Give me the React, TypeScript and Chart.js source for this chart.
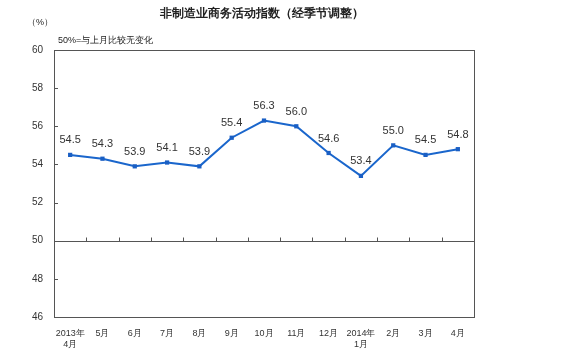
import React, { useEffect, useRef } from "react";
import { Chart, registerables } from "chart.js";

Chart.register(...registerables);

const categories: (string | string[])[] = [
  ["2013年", "4月"], "5月", "6月", "7月", "8月", "9月", "10月", "11月", "12月", ["2014年", "1月"], "2月", "3月", "4月",
];
const values: number[] = [54.5, 54.3, 53.9, 54.1, 53.9, 55.4, 56.3, 56.0, 54.6, 53.4, 55.0, 54.5, 54.8];
const yMin = 46;
const yMax = 60;
const yStep = 2;
const baseline = 50;
const title = "非制造业商务活动指数（经季节调整）";
const unitLabel = "（%）";
const note = "50%=与上月比较无变化";

const FONT = "'Liberation Sans', Arial, sans-serif";

const decorPlugin = {
  id: "decor",
  afterDatasetsDraw(chart: any) {
    const { ctx, chartArea } = chart;
    const { left, right, top, bottom } = chartArea;
    const y = chart.scales.y;
    const x = chart.scales.x;
    ctx.save();
    ctx.strokeStyle = "#555";
    ctx.lineWidth = 1;
    ctx.strokeRect(Math.round(left) + 0.5, Math.round(top) + 0.5, Math.round(right - left), Math.round(bottom - top));
    // baseline
    const by = Math.round(y.getPixelForValue(baseline)) + 0.5;
    ctx.beginPath();
    ctx.moveTo(left, by);
    ctx.lineTo(right, by);
    ctx.stroke();
    // y ticks inward
    ctx.beginPath();
    for (let v = yMin; v <= yMax; v += yStep) {
      const py = Math.round(y.getPixelForValue(v)) + 0.5;
      ctx.moveTo(left, py);
      ctx.lineTo(left + 4, py);
    }
    // x ticks on baseline
    const n = categories.length;
    const w = (right - left) / n;
    for (let i = 1; i < n; i++) {
      const px = Math.round(left + i * w) + 0.5;
      ctx.moveTo(px, by);
      ctx.lineTo(px, by - 4);
    }
    ctx.stroke();
    // data labels
    ctx.fillStyle = "#333";
    ctx.font = `11px ${FONT}`;
    ctx.textAlign = "center";
    ctx.textBaseline = "bottom";
    values.forEach((v, i) => {
      const px = x.getPixelForValue(i);
      const py = y.getPixelForValue(v);
      ctx.fillText(v.toFixed(1), px, py - 9);
    });
    // titles
    ctx.font = `bold 12px ${FONT}`;
    ctx.fillStyle = "#222";
    ctx.textBaseline = "middle";
    ctx.fillText(title, 262, 14);
    ctx.font = `9px ${FONT}`;
    ctx.textAlign = "left";
    ctx.fillText(unitLabel, 27, 23);
    ctx.fillText(note, 58, 41);
    ctx.restore();
  },
};

export default function App() {
  const ref = useRef<HTMLCanvasElement>(null);
  useEffect(() => {
    document.body.style.margin = "0";
    const chart = new Chart(ref.current!, {
      type: "line",
      data: {
        labels: categories,
        datasets: [
          {
            data: values,
            borderColor: "#1a66cc",
            backgroundColor: "#1a5fc4",
            borderWidth: 2,
            pointStyle: "rect",
            pointRadius: 3,
            pointBorderWidth: 0,
            tension: 0,
          },
        ],
      },
      options: {
        animation: false,
        responsive: false,
        maintainAspectRatio: false,
        layout: { padding: { top: 50, right: 88, left: 0, bottom: 0 } },
        plugins: { legend: { display: false }, tooltip: { enabled: false }, title: { display: false } },
        scales: {
          x: {
            offset: true,
            grid: { display: false, drawTicks: false },
            border: { display: false },
            ticks: { color: "#333", font: { family: FONT, size: 9 }, padding: 11, maxRotation: 0, autoSkip: false },
            afterFit: (s: any) => { s.height = 38; },
          },
          y: {
            min: yMin,
            max: yMax,
            grid: { display: false, drawTicks: false },
            border: { display: false },
            ticks: { stepSize: yStep, color: "#333", font: { family: FONT, size: 10 }, padding: 11 },
            afterFit: (s: any) => { s.width = 54; },
          },
        },
      },
      plugins: [decorPlugin],
    });
    return () => chart.destroy();
  }, []);
  return <canvas ref={ref} width={562} height={355} style={{ display: "block" }} />;
}
